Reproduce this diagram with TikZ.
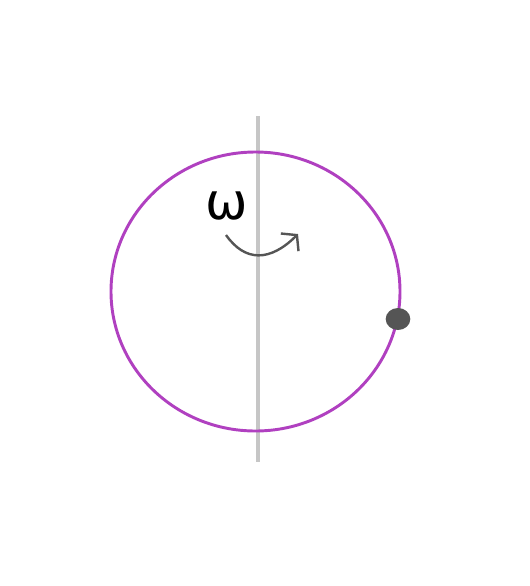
\documentclass[tikz,border=0pt]{standalone}
\usepackage{fontspec}
\newfontfamily\symfont{DejaVu Sans}
\usetikzlibrary{arrows.meta,shapes.geometric}
\definecolor{RingPurple}{HTML}{B040C0}
\definecolor{AxisGrey}{HTML}{C6C6C6}
\definecolor{DarkGrey}{HTML}{555555}

\begin{document}
\begin{tikzpicture}[x=0.75pt,y=-0.75pt,
axis/.style={AxisGrey,line width=2.6pt},
ring/.style={RingPurple,line width=2.2pt},
bead/.style={ellipse,fill=DarkGrey,inner sep=0pt,minimum width=18.5pt,minimum height=16.5pt},
spin/.style={DarkGrey,line width=1.8pt,-{Straight Barb[length=2.7mm,width=6.6mm]}}
]
\useasboundingbox (0,0) rectangle (530,586);
\coordinate (top) at (258,116);
\coordinate (bot) at (258,462);
\draw[axis] (top) -- (bot);
\draw[ring] (255.5,291.5) ellipse [x radius=144.5,y radius=139.5];
\node[bead] (m) at (398,319) {};
\node (w) at (227,206) {\fontsize{38}{38}\selectfont\symfont ω};
\coordinate (s0) at (226,235);
\coordinate (s1) at (298,234);
\draw[spin] (s0) .. controls (245,262) and (270,262) .. (s1);
\end{tikzpicture}
\end{document}
